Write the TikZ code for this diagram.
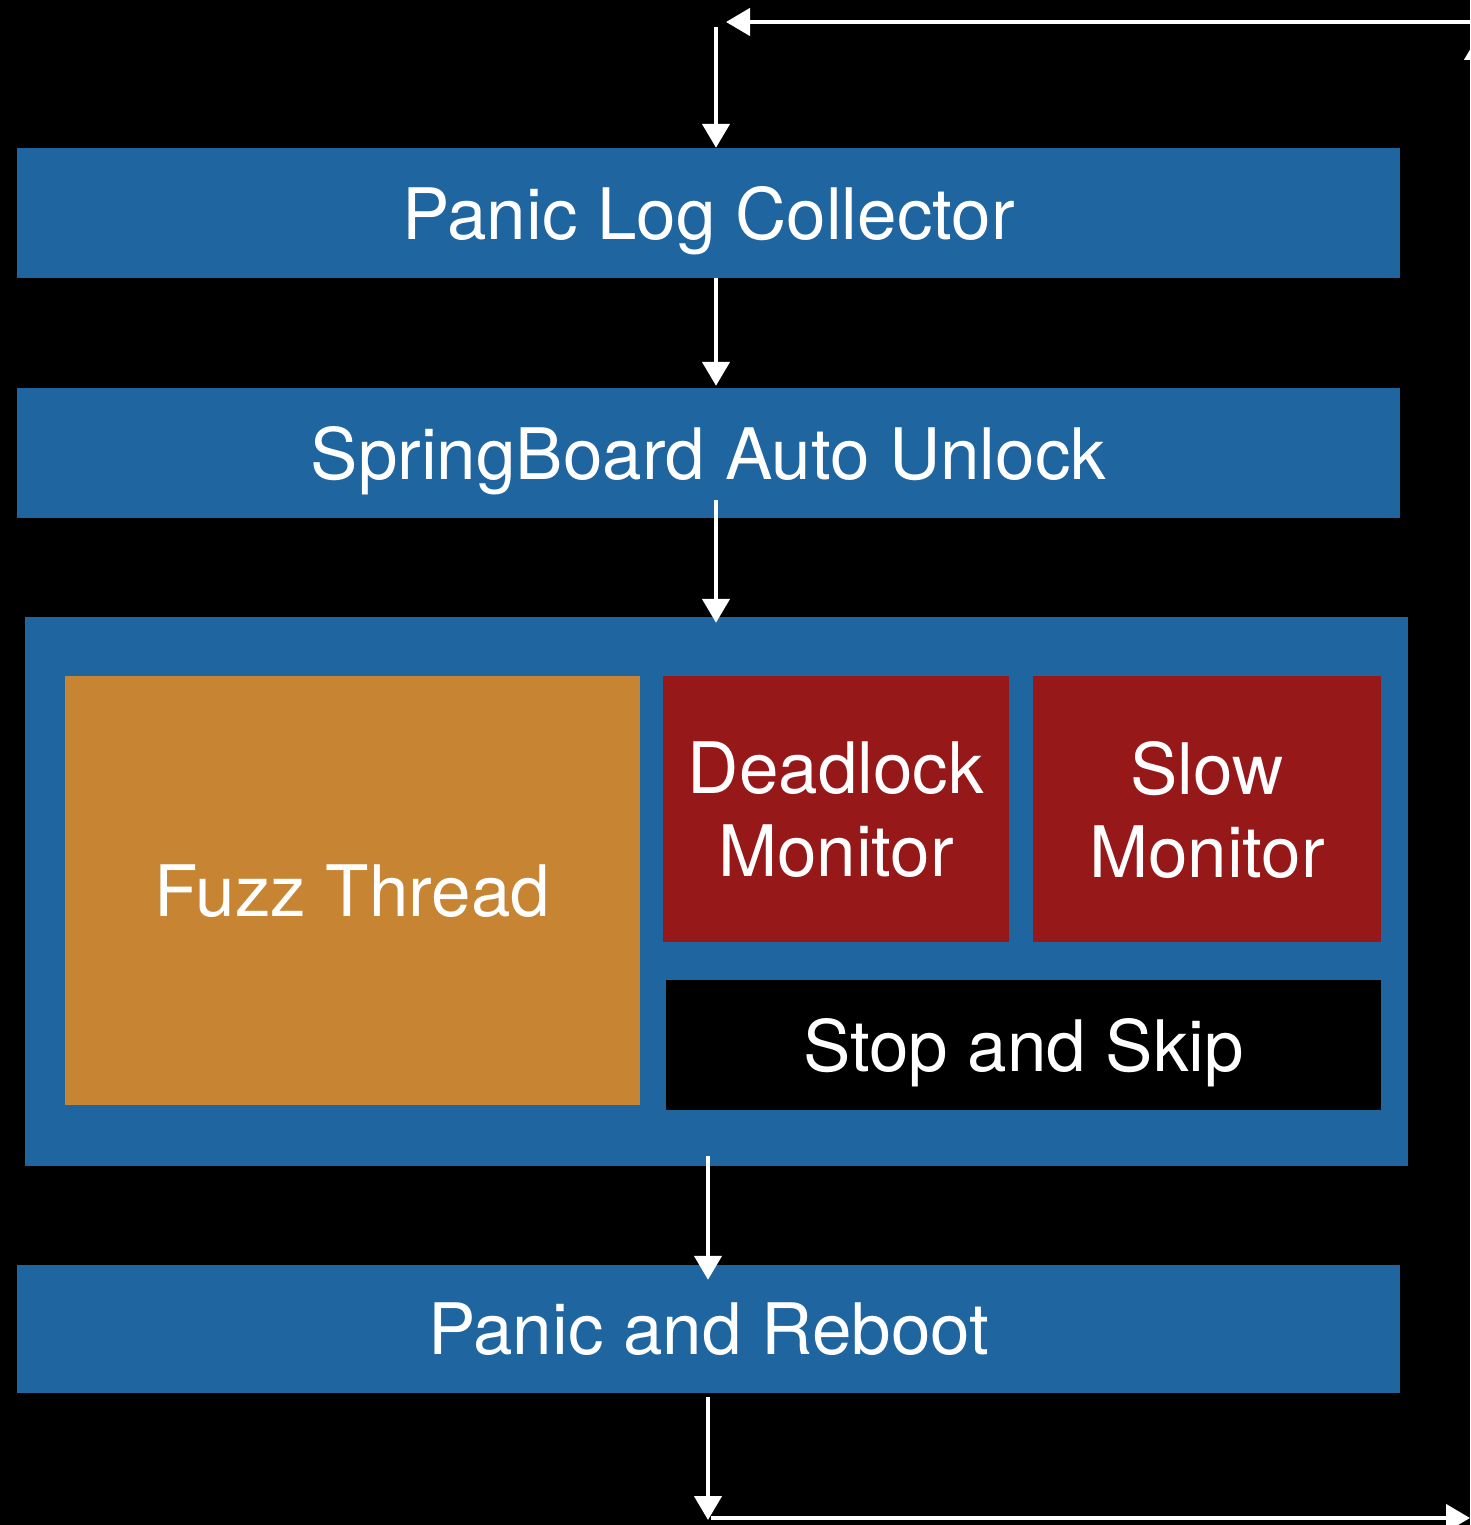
\documentclass[tikz,border=0pt]{standalone}
\usepackage{fontspec}
\setmainfont{TeX Gyre Heros}
\usetikzlibrary{arrows.meta}
\definecolor{stageblue}{RGB}{31,101,160}
\definecolor{fuzzorange}{RGB}{199,132,50}
\definecolor{monred}{RGB}{150,24,24}
\tikzset{
  stage/.style={fill=stageblue, draw=none, inner sep=0pt, text=white,
    font=\fontsize{71}{83}\selectfont, align=center, text depth=0pt},
  fuzzbox/.style={stage, fill=fuzzorange},
  monbox/.style={stage, fill=monred},
  skipbox/.style={stage, fill=black},
  flow/.style={draw=white, line width=4.5pt,
    -{Triangle[width=27pt,length=24pt]}},
}
\begin{document}
\begin{tikzpicture}[x=1pt,y=-1pt]
\useasboundingbox (0,0) rectangle (1470,1525);
\fill[black] (0,0) rectangle (1470,1525);
\clip (0,0) rectangle (1470,1525);

% pipeline stages
\node[stage, minimum width=1383pt, minimum height=130pt] (plc) at (708.5,213) {Panic Log Collector};
\node[stage, minimum width=1383pt, minimum height=130pt] (sab) at (708.5,453) {SpringBoard Auto Unlock};
\node[stage, minimum width=1383pt, minimum height=549pt] (run) at (716.5,891.5) {};
\node[fuzzbox, minimum width=575pt, minimum height=429pt] (fuzz) at (352.5,890.5) {Fuzz Thread};
\node[monbox, minimum width=346pt, minimum height=266pt] (dead) at (836,809) {Deadlock\\Monitor};
\node[monbox, minimum width=348pt, minimum height=266pt] (slow) at (1207,809) {Slow\\Monitor};
\node[skipbox, minimum width=715pt, minimum height=130pt] (skip) at (1023.5,1045) {Stop and Skip};
\node[stage, minimum width=1383pt, minimum height=128pt] (par) at (708.5,1329) {Panic and Reboot};

% loop-back path around the right edge
\coordinate (topin) at (716,27);
\coordinate (toprt) at (1478,22);
\coordinate (topend) at (726,22);
\coordinate (rtlow) at (1478,1518);
\coordinate (rthigh) at (1478,36);
\coordinate (botdn) at (708,1520);
\coordinate (botst) at (711,1518);
\coordinate (botend) at (1470,1518);

% flow arrows between the stages
\draw[flow] (toprt) -- (topend);
\draw[flow] (topin) -- ([xshift=7.5pt]plc.north);
\draw[flow] ([xshift=7.5pt]plc.south) -- ([xshift=7.5pt,yshift=2pt]sab.north);
\draw[flow] ([xshift=7.5pt,yshift=18pt]sab.south) -- ([xshift=-0.5pt,yshift=-6pt]run.north);
\draw[flow] ([xshift=-8.5pt,yshift=10pt]run.south) -- ([xshift=-0.5pt,yshift=-15pt]par.north);
\draw[flow] ([xshift=-0.5pt,yshift=-4pt]par.south) -- (botdn);
\draw[flow] (botst) -- (botend);
\draw[flow] (rtlow) -- (rthigh);
\end{tikzpicture}
\end{document}
